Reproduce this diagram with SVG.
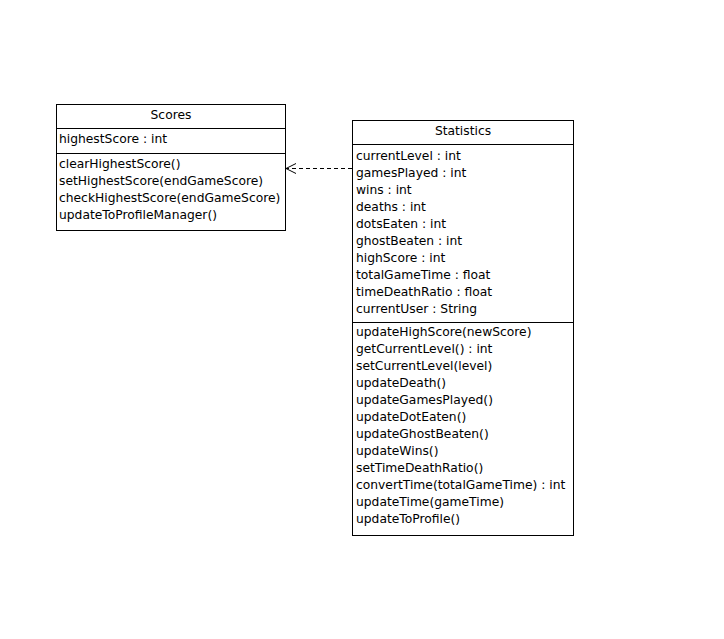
<svg xmlns="http://www.w3.org/2000/svg" width="724" height="639" viewBox="0 0 724 639">
<style>
text{font-family:"DejaVu Sans","Liberation Sans",sans-serif;font-size:12.3px;fill:#000}
.t{text-anchor:middle}
.box{fill:#fff;stroke:#000;stroke-width:1}
.ln{stroke:#000;stroke-width:1}
.dep{fill:none;stroke:#000;stroke-width:1;stroke-dasharray:4,3}
</style>
<defs>
<marker id="open" markerWidth="12" markerHeight="12" refX="11" refY="6" orient="auto" markerUnits="userSpaceOnUse">
<path d="M1,1 L11,6 L1,11" fill="none" stroke="#000" stroke-width="1"/>
</marker>
</defs>
<rect width="724" height="639" fill="#fff"/>
<g id="connectors">
<line class="dep" x1="352" y1="168.5" x2="286" y2="168.5" marker-end="url(#open)"/>
</g>
<g id="Scores">
<rect class="box" x="56.5" y="104.5" width="229" height="126"/>
<line class="ln" x1="56.5" y1="128.5" x2="285.5" y2="128.5"/>
<line class="ln" x1="56.5" y1="153.5" x2="285.5" y2="153.5"/>
<text class="t" x="171" y="118.5">Scores</text>
<text x="59" y="142.5">highestScore : int</text>
<text x="59" y="167.5">clearHighestScore()</text>
<text x="59" y="184.5">setHighestScore(endGameScore)</text>
<text x="59" y="201.5">checkHighestScore(endGameScore)</text>
<text x="59" y="218.5">updateToProfileManager()</text>
</g>
<g id="Statistics">
<rect class="box" x="352.5" y="120.5" width="221" height="415"/>
<line class="ln" x1="352.5" y1="144.5" x2="573.5" y2="144.5"/>
<line class="ln" x1="352.5" y1="322.5" x2="573.5" y2="322.5"/>
<text class="t" x="463" y="134.5">Statistics</text>
<text x="356" y="159.5">currentLevel : int</text>
<text x="356" y="176.5">gamesPlayed : int</text>
<text x="356" y="193.5">wins : int</text>
<text x="356" y="210.5">deaths : int</text>
<text x="356" y="227.5">dotsEaten : int</text>
<text x="356" y="244.5">ghostBeaten : int</text>
<text x="356" y="261.5">highScore : int</text>
<text x="356" y="278.5">totalGameTime : float</text>
<text x="356" y="295.5">timeDeathRatio : float</text>
<text x="356" y="312.5">currentUser : String</text>
<text x="356" y="335.5">updateHighScore(newScore)</text>
<text x="356" y="352.5">getCurrentLevel() : int</text>
<text x="356" y="369.5">setCurrentLevel(level)</text>
<text x="356" y="386.5">updateDeath()</text>
<text x="356" y="403.5">updateGamesPlayed()</text>
<text x="356" y="420.5">updateDotEaten()</text>
<text x="356" y="437.5">updateGhostBeaten()</text>
<text x="356" y="454.5">updateWins()</text>
<text x="356" y="472">setTimeDeathRatio()</text>
<text x="356" y="489">convertTime(totalGameTime) : int</text>
<text x="356" y="506">updateTime(gameTime)</text>
<text x="356" y="523">updateToProfile()</text>
</g>
</svg>
